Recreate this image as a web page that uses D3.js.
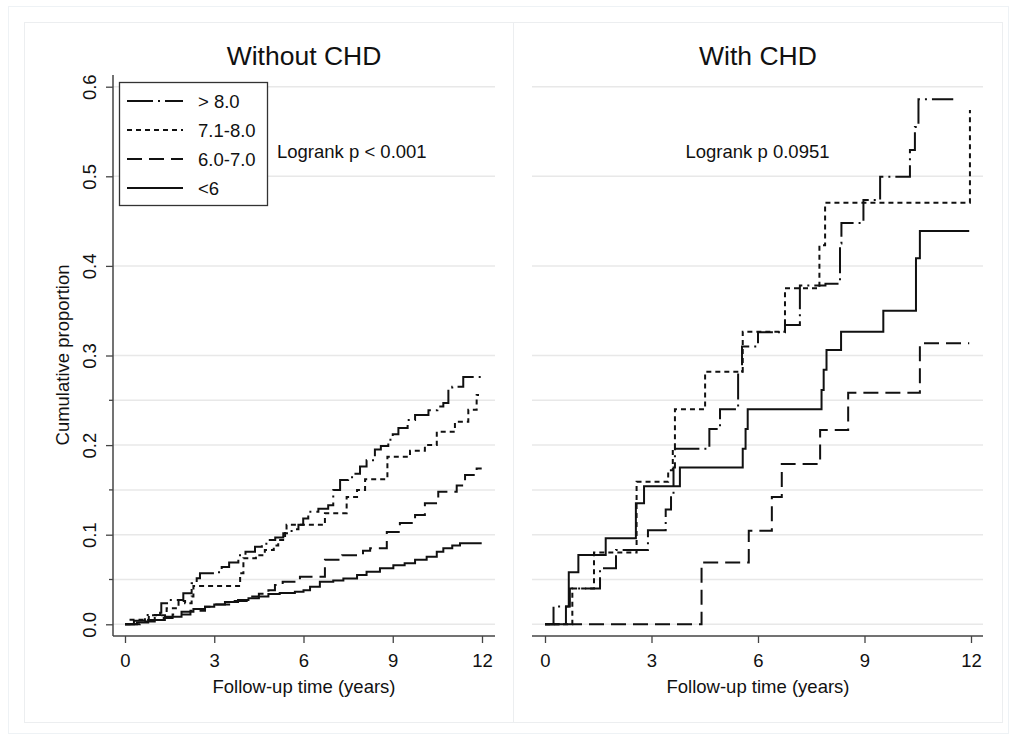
<!DOCTYPE html>
<html>
<head>
<meta charset="utf-8">
<script src="https://cdn.jsdelivr.net/npm/d3@7"></script>
<style>
  html, body { margin: 0; padding: 0; background: #fff; }
  svg text { font-family: "Liberation Sans", Arial, sans-serif; fill: #111; }
</style>
</head>
<body>
<svg id="chart" width="1010" height="737"></svg>
<script>
// ---------------- DATA ----------------
const panelTitles = ["Without CHD", "With CHD"];
const groupLabels = ["> 8.0", "7.1-8.0", "6.0-7.0", "<6"];
const logrankTexts = ["Logrank p < 0.001", "Logrank p 0.0951"];
const xTickValues = [0, 3, 6, 9, 12];
const yMajorTicks = [0, 0.1, 0.2, 0.3, 0.4, 0.5, 0.6];
const yMinorTicks = [0.05, 0.15, 0.25];
const xTitle = "Follow-up time (years)";
const yTitle = "Cumulative proportion";

// Without CHD
const noChdGt8T = [0,0.3,0.67,1.18,1.22,1.46,1.96,2.24,2.41,2.52,3.1,3.25,3.5,3.81,4.05,4.37,4.6,4.82,5.05,5.32,5.6,5.83,5.99,6.16,6.5,6.83,7.0,7.23,7.5,7.7,7.9,8.12,8.4,8.6,8.85,9.0,9.19,9.5,9.75,10.2,10.5,10.7,10.87,11.0,11.37,11.99];
const noChdGt8V = [0,0.004,0.0104,0.013,0.0234,0.027,0.0346,0.0458,0.0513,0.057,0.058,0.064,0.069,0.077,0.081,0.0866,0.090,0.094,0.097,0.1016,0.106,0.111,0.118,0.1257,0.129,0.133,0.15,0.161,0.164,0.168,0.176,0.183,0.195,0.199,0.206,0.212,0.219,0.228,0.2336,0.239,0.243,0.247,0.263,0.265,0.276,0.276];

const noChd71T = [0,0.15,0.8,1.4,1.8,2.02,2.24,2.3,3.75,3.87,3.98,4.4,4.7,5.0,5.15,5.38,5.43,6.55,6.72,7.4,7.45,7.8,8.07,8.82,9.58,9.9,10.08,10.48,11.09,11.54,11.82,11.9];
const noChd71V = [0,0.005,0.01,0.018,0.026,0.0234,0.031,0.0427,0.0427,0.057,0.0737,0.077,0.083,0.088,0.094,0.103,0.111,0.111,0.124,0.124,0.142,0.150,0.162,0.187,0.1937,0.1937,0.200,0.215,0.226,0.2394,0.256,0.256];

const noChd6070T = [0,0.5,1.0,1.6,2.2,2.69,3.03,3.5,4.09,4.5,4.82,5.04,5.3,5.88,6.4,6.72,7.3,7.6,8.0,8.24,8.8,9.24,9.75,10.08,10.53,11.15,11.43,11.82,11.99];
const noChd6070V = [0,0.003,0.007,0.011,0.015,0.0196,0.022,0.026,0.031,0.034,0.038,0.044,0.0475,0.053,0.053,0.072,0.077,0.077,0.082,0.085,0.103,0.113,0.122,0.135,0.148,0.155,0.1666,0.174,0.174];

const noChdLt6T = [0,0.4,0.78,1.34,1.9,2.3,2.69,3.0,3.36,3.8,4.15,4.5,4.82,5.2,5.71,6.0,6.22,6.55,7.0,7.34,7.8,8.12,8.57,9.02,9.4,9.75,10.14,10.48,10.7,11.0,11.26,11.99];
const noChdLt6V = [0,0.002,0.0048,0.0085,0.014,0.017,0.0196,0.022,0.025,0.027,0.029,0.031,0.0338,0.035,0.0364,0.038,0.042,0.0475,0.049,0.051,0.055,0.0587,0.0625,0.066,0.068,0.072,0.0755,0.081,0.085,0.088,0.0904,0.0904];

// With CHD
const chdGt8T = [0,0.24,0.7,1.55,2.0,2.9,3.4,3.55,3.62,3.66,4.63,4.93,5.44,5.55,6.0,6.76,7.18,7.9,8.31,8.35,8.97,9.44,10.28,10.42,10.52,11.5];
const chdGt8V = [0,0.02,0.04,0.0625,0.083,0.105,0.128,0.143,0.175,0.196,0.218,0.24,0.282,0.31,0.326,0.334,0.378,0.38,0.425,0.448,0.4735,0.4996,0.5294,0.555,0.586,0.586];

const chd71T = [0,0.77,1.38,2.58,3.47,3.6,3.66,4.51,5.57,6.76,7.73,7.89,11.97];
const chd71V = [0,0.04,0.08,0.159,0.172,0.196,0.24,0.282,0.3266,0.375,0.423,0.4705,0.574];

const chd6070T = [0,4.41,5.74,6.39,6.67,7.75,8.54,10.56,11.95];
const chd6070V = [0,0.069,0.1045,0.142,0.179,0.2168,0.2585,0.3136,0.3136];

const chdLt6T = [0,0.59,0.67,0.94,1.71,2.56,2.79,3.8,5.57,5.65,5.71,7.79,7.85,7.93,8.34,9.53,10.45,10.56,11.95];
const chdLt6V = [0,0.02,0.058,0.0773,0.096,0.135,0.154,0.175,0.196,0.218,0.24,0.2615,0.284,0.306,0.3266,0.35,0.4085,0.439,0.439];

// ---------------- STYLE / LAYOUT ----------------
const dashes = ["26,5,2,5", "5,4", "15,7", null];
const lineW = 2;
const ink = "#111";
const gridColor = "#e8e8e8";
const axisColor = "#444";
const fs = 18.5;

const svg = d3.select("#chart");

// outer frames
svg.append("rect").attr("x", 8.5).attr("y", 6.5).attr("width", 1000).attr("height", 727)
  .attr("fill", "none").attr("stroke", "#eef2f5").attr("stroke-width", 1);
svg.append("rect").attr("x", 24.5).attr("y", 22.5).attr("width", 489).attr("height", 700)
  .attr("fill", "none").attr("stroke", "#eceef0").attr("stroke-width", 1);
svg.append("rect").attr("x", 513.5).attr("y", 22.5).attr("width", 489).attr("height", 700)
  .attr("fill", "none").attr("stroke", "#eceef0").attr("stroke-width", 1);

const y = d3.scaleLinear().domain([0, 0.6]).range([624.3, 86.7]);

const panels = [
  { x0: 125, x1: 482, axL: 113, axR: 495, cx: 304, yAxis: true,
    series: [[noChdGt8T, noChdGt8V], [noChd71T, noChd71V], [noChd6070T, noChd6070V], [noChdLt6T, noChdLt6V]],
    note: { x: 277, y: 158, anchor: "start" } },
  { x0: 545, x1: 971, axL: 532, axR: 983, cx: 758, yAxis: false,
    series: [[chdGt8T, chdGt8V], [chd71T, chd71V], [chd6070T, chd6070V], [chdLt6T, chdLt6V]],
    note: { x: 757.5, y: 158, anchor: "middle" } }
];

const axisY = 636;

panels.forEach((p, i) => {
  const x = d3.scaleLinear().domain([0, 12]).range([p.x0, p.x1]);
  const g = svg.append("g");

  // gridlines
  g.selectAll("line.grid").data(yMajorTicks.concat(yMinorTicks)).join("line")
    .attr("x1", p.axL).attr("x2", p.axR)
    .attr("y1", d => y(d)).attr("y2", d => y(d))
    .attr("stroke", gridColor).attr("stroke-width", 1.5);

  // curves
  const line = d3.line().x(d => x(d[0])).y(d => y(d[1])).curve(d3.curveStepAfter);
  p.series.forEach((s, k) => {
    const pts = s[0].map((t, j) => [t, s[1][j]]);
    g.append("path").attr("d", line(pts)).attr("fill", "none")
      .attr("stroke", ink).attr("stroke-width", lineW)
      .attr("stroke-dasharray", dashes[k]);
  });

  // x axis
  const xAxis = d3.axisBottom(x).tickValues(xTickValues).tickSize(7).tickFormat(d3.format("d"));
  const xa = g.append("g").attr("transform", `translate(0,${axisY})`).call(xAxis);
  xa.select(".domain").remove();
  xa.append("line").attr("x1", p.axL).attr("x2", p.axR).attr("y1", 0).attr("y2", 0)
    .attr("stroke", axisColor).attr("stroke-width", 1.5);
  xa.selectAll(".tick line").attr("stroke", axisColor).attr("stroke-width", 1.3);
  xa.selectAll(".tick text").attr("font-size", fs).attr("fill", "#111")
    .attr("font-family", "Liberation Sans, Arial, sans-serif")
    .attr("dy", null).attr("y", 31);

  g.append("text").attr("x", p.cx).attr("y", 693).attr("text-anchor", "middle")
    .attr("font-size", fs).text(xTitle);

  // panel title
  g.append("text").attr("x", p.cx).attr("y", 65).attr("text-anchor", "middle")
    .attr("font-size", 26.5).text(panelTitles[i]);

  // logrank note
  g.append("text").attr("x", p.note.x).attr("y", p.note.y).attr("text-anchor", p.note.anchor)
    .attr("font-size", fs).text(logrankTexts[i]);

  if (p.yAxis) {
    const yAxis = d3.axisLeft(y).tickValues(yMajorTicks).tickSize(7).tickFormat(d3.format(".1f"));
    const ya = g.append("g").attr("transform", `translate(${p.axL},0)`).call(yAxis);
    ya.select(".domain").remove();
    ya.append("line").attr("x1", 0).attr("x2", 0).attr("y1", 75).attr("y2", axisY)
      .attr("stroke", axisColor).attr("stroke-width", 1.5);
    ya.selectAll(".tick line").attr("stroke", axisColor).attr("stroke-width", 1.3);
    ya.selectAll(".tick text").attr("font-size", fs).attr("fill", "#111")
      .attr("font-family", "Liberation Sans, Arial, sans-serif")
      .attr("text-anchor", "middle").attr("dy", null)
      .attr("transform", "rotate(-90)")
      .attr("x", 0).attr("y", -17);
    // minor ticks
    ya.selectAll("line.minor").data(yMinorTicks).join("line")
      .attr("x1", -4).attr("x2", 0).attr("y1", d => y(d)).attr("y2", d => y(d))
      .attr("stroke", axisColor).attr("stroke-width", 1.3);

    g.append("text").attr("transform", `translate(69,355) rotate(-90)`)
      .attr("text-anchor", "middle").attr("font-size", fs).text(yTitle);

    // legend
    const lg = g.append("g");
    lg.append("rect").attr("x", 119.5).attr("y", 82.5).attr("width", 148).attr("height", 123)
      .attr("fill", "#fff").attr("stroke", "#333").attr("stroke-width", 1.3);
    groupLabels.forEach((lab, k) => {
      const ry = 101 + k * 29;
      lg.append("line").attr("x1", 127).attr("x2", 183).attr("y1", ry).attr("y2", ry)
        .attr("stroke", ink).attr("stroke-width", lineW).attr("stroke-dasharray", dashes[k]);
      lg.append("text").attr("x", 198).attr("y", ry + 6.5).attr("font-size", fs).text(lab);
    });
  }
});
</script>
</body>
</html>
